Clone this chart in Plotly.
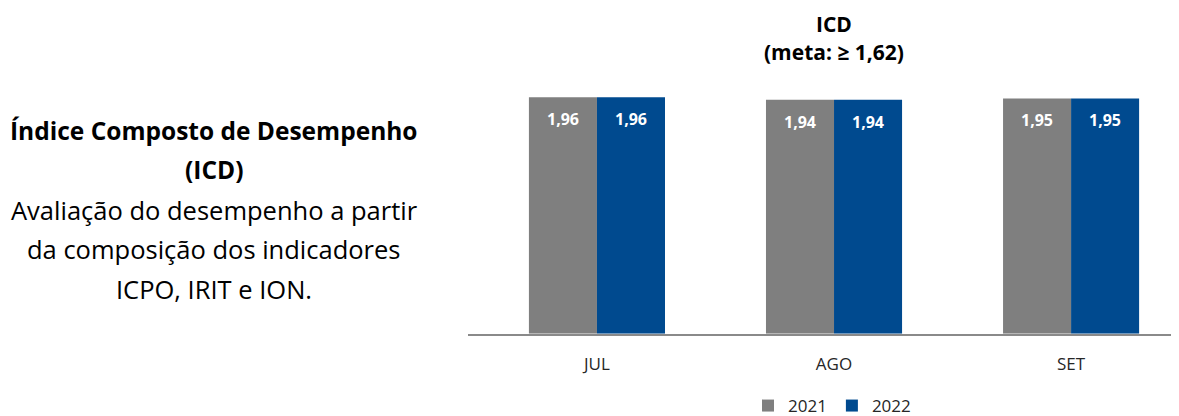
import plotly.graph_objects as go

months = ["JUL", "AGO", "SET"]
series_names = ["2021", "2022"]
icd_2021 = [1.96, 1.94, 1.95]
icd_2022 = [1.96, 1.94, 1.95]
colors = ["#7f7f7f", "#004a8f"]

title_lines = ["ICD", "(meta: ≥ 1,62)"]
side_bold = ["Índice Composto de Desempenho", "(ICD)"]
side_text = [
    "Avaliação do desempenho a partir",
    "da composição dos indicadores",
    "ICPO, IRIT e ION.",
]

W, H = 1179, 416
OFF = 8  # page body margin
FONT = "Open Sans"


def px(x):
    return (x - OFF) / W


def py(y):
    return 1 - (y - OFF) / H


fig = go.Figure()
for name, vals, color in zip(series_names, [icd_2021, icd_2022], colors):
    fig.add_trace(
        go.Bar(
            x=months,
            y=vals,
            name=name,
            marker=dict(color=color, line=dict(width=0)),
        )
    )

# value labels inside the top of each bar
for name, vals, shift in zip(series_names, [icd_2021, icd_2022], [-34, 34]):
    for m, v in zip(months, vals):
        fig.add_annotation(
            x=m, y=v, xref="x", yref="y",
            text=f"<b>{v:.2f}</b>".replace(".", ","),
            showarrow=False, xshift=shift, yshift=-22,
            font=dict(family=FONT, size=16, color="white"),
        )

# chart title (two lines)
fig.add_annotation(
    x=px(834), y=1.0, xref="paper", yref="paper",
    text=f"<b>{title_lines[0]}</b>", showarrow=False,
    xanchor="center", yanchor="top",
    font=dict(family=FONT, size=21, color="black"),
)
fig.add_annotation(
    x=px(834), y=py(52), xref="paper", yref="paper",
    text=f"<b>{title_lines[1]}</b>", showarrow=False,
    xanchor="center", yanchor="middle",
    font=dict(family=FONT, size=21, color="black"),
)

# descriptive text on the left
for i, line in enumerate(side_bold + side_text):
    bold = i < len(side_bold)
    fig.add_annotation(
        x=px(214), y=py(131 + 40 * i), xref="paper", yref="paper",
        text=f"<b>{line}</b>" if bold else line, showarrow=False,
        xanchor="center", yanchor="middle",
        font=dict(family=FONT, size=24.5 if bold else 25.5, color="black"),
    )

fig.update_layout(
    width=W, height=H,
    margin=dict(l=0, r=0, t=0, b=0),
    paper_bgcolor="white", plot_bgcolor="white",
    barmode="group", bargap=0.426, bargroupgap=0,
    showlegend=True,
    legend=dict(
        orientation="h", x=px(832), xanchor="center",
        y=py(409), yanchor="middle",
        font=dict(family=FONT, size=17, color="#262626"),
        itemwidth=30, traceorder="normal",
    ),
    font=dict(family=FONT),
)
fig.update_xaxes(
    domain=[px(468), 1.0], range=[-0.544, 2.489],
    showline=True, linecolor="#8a8a8a", linewidth=2,
    showgrid=False, ticks="", ticklabelstandoff=14,
    tickfont=dict(family=FONT, size=17, color="#262626"),
)
fig.update_yaxes(
    domain=[(H - (336 - OFF)) / H, (H - (93 - OFF)) / H],
    range=[0, 2.0],
    visible=False, showgrid=False,
)

fig.write_html("out.html")
